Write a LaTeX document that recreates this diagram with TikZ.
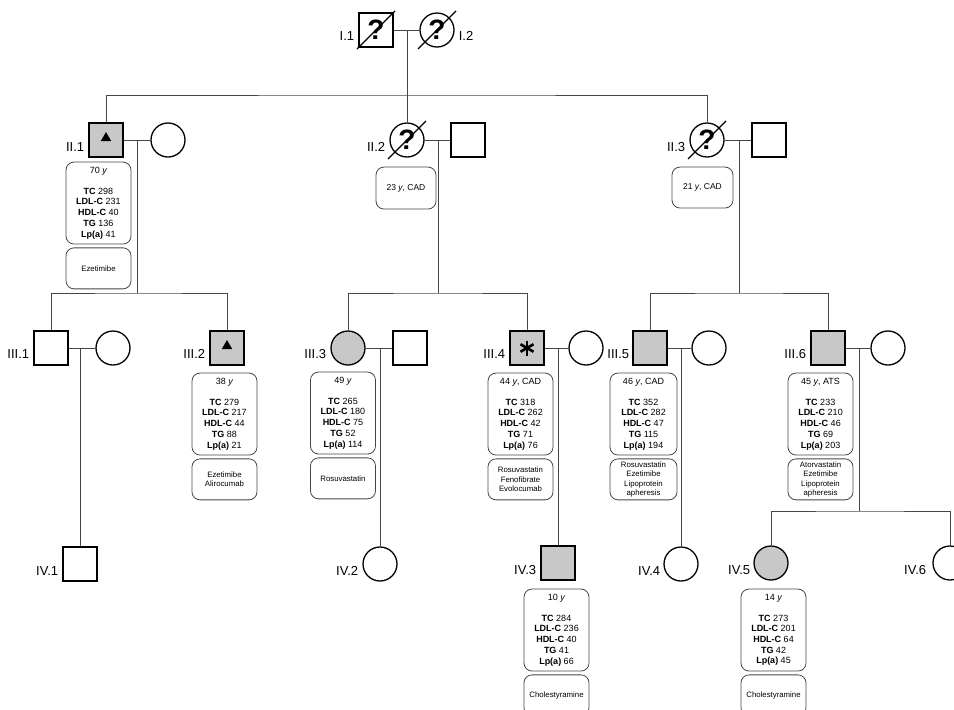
\documentclass[tikz,border=0pt]{standalone}
\usepackage{fontspec}
\setmainfont{Liberation Sans}
\usetikzlibrary{positioning, shapes.geometric}
\definecolor{colAff}{RGB}{200,200,200}
\definecolor{colLine}{RGB}{70,70,70}

\begin{document}
\begin{tikzpicture}[
  x=1pt, y=-1pt,
  male/.style={rectangle, draw, line width=1.3pt, minimum size=34pt, inner sep=0pt},
  female/.style={circle, draw, line width=1.3pt, minimum size=34pt, inner sep=0pt},
  aff/.style={fill=colAff},
  unk/.style={font=\fontsize{28}{28}\selectfont\bfseries},
  lbl/.style={font=\fontsize{13}{13}\selectfont, inner sep=0pt},
  info/.style={rectangle, rounded corners=8pt, draw=colLine, line width=0.8pt,
               minimum width=65pt, minimum height=82pt, inner sep=2pt, align=center,
               font=\fontsize{9}{10.7}\selectfont},
  rx/.style={rectangle, rounded corners=8pt, draw=colLine, line width=0.8pt,
             minimum width=65pt, minimum height=41pt, inner sep=1.5pt, align=center,
             font=\fontsize{7.8}{9.4}\selectfont},
  conn/.style={line width=0.9pt, colLine},
  slash/.style={line width=1.1pt},
  tristyle/.style={regular polygon, regular polygon sides=3, fill=black,
                   minimum size=12pt, inner sep=0pt},
]
\useasboundingbox (0,0) rectangle (954,710);
\clip (0,0) rectangle (954,710);

% Generation I
\node[male, unk] (ione) at (376,30) {?};
\node[female, unk] (itwo) at (437,30) {?};
\node[lbl, left=4pt of ione, yshift=-6pt] (ionelbl) {I.1};
\node[lbl, right=4pt of itwo, yshift=-6pt] (itwolbl) {I.2};
\draw[slash] ([shift={(-19pt,-19pt)}]ione.center) -- ([shift={(19pt,19pt)}]ione.center);
\draw[slash] ([shift={(-19pt,-19pt)}]itwo.center) -- ([shift={(19pt,19pt)}]itwo.center);

% Generation II
\node[male, aff] (iione) at (106,140) {};
\node[tristyle] (iionetri) at ([yshift=2pt]iione.center) {};
\node[female] (iionesp) at (168,140) {};
\node[female, unk] (iitwo) at (407,140) {?};
\node[male] (iitwosp) at (468,140) {};
\node[female, unk] (iithree) at (707,140) {?};
\node[male] (iithreesp) at (769,140) {};
\draw[slash] ([shift={(-19pt,-19pt)}]iitwo.center) -- ([shift={(19pt,19pt)}]iitwo.center);
\draw[slash] ([shift={(-19pt,-19pt)}]iithree.center) -- ([shift={(19pt,19pt)}]iithree.center);
\node[lbl, left=4pt of iione, yshift=-7pt] (iionelbl) {II.1};
\node[lbl, left=4pt of iitwo, yshift=-7pt] (iitwolbl) {II.2};
\node[lbl, left=4pt of iithree, yshift=-7pt] (iithreelbl) {II.3};

\node[info, below=4pt of iione, xshift=-7.5pt] (iioneinfo)
  {70 \textit{y}\\[10pt] \textbf{TC} 298\\ \textbf{LDL-C} 231\\ \textbf{HDL-C} 40\\ \textbf{TG} 136\\ \textbf{Lp(a)} 41};
\node[rx, below=3pt of iioneinfo] (iionerx) {Ezetimibe};
\node[rx, minimum width=60pt, minimum height=42pt, font=\fontsize{8.5}{10}\selectfont,
      below=9pt of iitwo, xshift=-1pt] (iitwoinfo) {23 \textit{y}, CAD};
\node[rx, minimum width=61pt, minimum height=41pt, font=\fontsize{8.5}{10}\selectfont,
      below=9pt of iithree, xshift=-4.5pt] (iithreeinfo) {21 \textit{y}, CAD};

% Generation III
\node[male] (iiione) at (51,348) {};
\node[female] (iiionesp) at (113,348) {};
\node[male, aff] (iiitwo) at (227,348) {};
\node[tristyle] (iiitwotri) at ([yshift=2pt]iiitwo.center) {};
\node[female, aff] (iiithree) at (348,348) {};
\node[male] (iiithreesp) at (410,348) {};
\node[male, aff] (iiifour) at (527,348) {};
\node[female] (iiifoursp) at (586,348) {};
\node[male, aff] (iiifive) at (650,348) {};
\node[female] (iiifivesp) at (709,348) {};
\node[male, aff] (iiisix) at (828,348) {};
\node[female] (iiisixsp) at (888,348) {};
\foreach \a in {90,30,150}
  \draw[line width=2.6pt] ([shift={(\a:7.5pt)}]iiifour.center) -- ([shift={(\a+180:7.5pt)}]iiifour.center);
\node[lbl, left=4pt of iiione, yshift=-6pt] (iiionelbl) {III.1};
\node[lbl, left=4pt of iiitwo, yshift=-6pt] (iiitwolbl) {III.2};
\node[lbl, left=4pt of iiithree, yshift=-6pt] (iiithreelbl) {III.3};
\node[lbl, left=4pt of iiifour, yshift=-6pt] (iiifourlbl) {III.4};
\node[lbl, left=3pt of iiifive, yshift=-6pt] (iiifivelbl) {III.5};
\node[lbl, left=4pt of iiisix, yshift=-6pt] (iiisixlbl) {III.6};

\node[info, below=7pt of iiitwo, xshift=-2.5pt] (iiitwoinfo)
  {38 \textit{y}\\[10pt] \textbf{TC} 279\\ \textbf{LDL-C} 217\\ \textbf{HDL-C} 44\\ \textbf{TG} 88\\ \textbf{Lp(a)} 21};
\node[rx, below=3pt of iiitwoinfo] (iiitworx) {Ezetimibe\\Alirocumab};
\node[info, below=6pt of iiithree, xshift=-5pt] (iiithreeinfo)
  {49 \textit{y}\\[10pt] \textbf{TC} 265\\ \textbf{LDL-C} 180\\ \textbf{HDL-C} 75\\ \textbf{TG} 52\\ \textbf{Lp(a)} 114};
\node[rx, below=3pt of iiithreeinfo] (iiithreerx) {Rosuvastatin};
\node[info, below=7pt of iiifour, xshift=-6.5pt] (iiifourinfo)
  {44 \textit{y}, CAD\\[10pt] \textbf{TC} 318\\ \textbf{LDL-C} 262\\ \textbf{HDL-C} 42\\ \textbf{TG} 71\\ \textbf{Lp(a)} 76};
\node[rx, below=3pt of iiifourinfo] (iiifourrx) {Rosuvastatin\\Fenofibrate\\Evolocumab};
\node[info, minimum width=67pt, below=7pt of iiifive, xshift=-6.5pt] (iiifiveinfo)
  {46 \textit{y}, CAD\\[10pt] \textbf{TC} 352\\ \textbf{LDL-C} 282\\ \textbf{HDL-C} 47\\ \textbf{TG} 115\\ \textbf{Lp(a)} 194};
\node[rx, minimum width=67pt, below=3pt of iiifiveinfo] (iiifiverx) {Rosuvastatin\\Ezetimibe\\Lipoprotein\\apheresis};
\node[info, below=7pt of iiisix, xshift=-7.5pt] (iiisixinfo)
  {45 \textit{y}, ATS\\[10pt] \textbf{TC} 233\\ \textbf{LDL-C} 210\\ \textbf{HDL-C} 46\\ \textbf{TG} 69\\ \textbf{Lp(a)} 203};
\node[rx, below=3pt of iiisixinfo] (iiisixrx) {Atorvastatin\\Ezetimibe\\Lipoprotein\\apheresis};

% Generation IV
\node[male] (ivone) at (80,564) {};
\node[female] (ivtwo) at (380,564) {};
\node[male, aff] (ivthree) at (558,563) {};
\node[female] (ivfour) at (681,564) {};
\node[female, aff] (ivfive) at (771,563) {};
\node[female] (ivsix) at (950,563) {};
\node[lbl, left=4pt of ivone, yshift=-7pt] (ivonelbl) {IV.1};
\node[lbl, left=4pt of ivtwo, yshift=-7pt] (ivtwolbl) {IV.2};
\node[lbl, left=4pt of ivthree, yshift=-7pt] (ivthreelbl) {IV.3};
\node[lbl, left=3pt of ivfour, yshift=-7pt] (ivfourlbl) {IV.4};
\node[lbl, left=3pt of ivfive, yshift=-7pt] (ivfivelbl) {IV.5};
\node[lbl, left=6pt of ivsix, yshift=-7pt] (ivsixlbl) {IV.6};

\node[info, below=8pt of ivthree, xshift=-1.5pt] (ivthreeinfo)
  {10 \textit{y}\\[10pt] \textbf{TC} 284\\ \textbf{LDL-C} 236\\ \textbf{HDL-C} 40\\ \textbf{TG} 41\\ \textbf{Lp(a)} 66};
\node[rx, below=3pt of ivthreeinfo] (ivthreerx) {Cholestyramine};
\node[info, below=8pt of ivfive, xshift=2.5pt] (ivfiveinfo)
  {14 \textit{y}\\[10pt] \textbf{TC} 273\\ \textbf{LDL-C} 201\\ \textbf{HDL-C} 64\\ \textbf{TG} 42\\ \textbf{Lp(a)} 45};
\node[rx, below=3pt of ivfiveinfo] (ivfiverx) {Cholestyramine};

% junctions
\coordinate (idesc) at (407,30);
\coordinate (iisib) at (407,95);
\coordinate (iionedesc) at (137,140);
\coordinate (iiisibA) at (137,293);
\coordinate (iitwodesc) at (438,140);
\coordinate (iiisibB) at (438,293);
\coordinate (iithreedesc) at (739,140);
\coordinate (iiisibC) at (739,293);
\coordinate (iiionedesc) at (80,348);
\coordinate (iiithreedesc) at (380,348);
\coordinate (iiifourdesc) at (558,348);
\coordinate (iiifivedesc) at (681,348);
\coordinate (iiisixdesc) at (859,348);
\coordinate (ivsib) at (859,511);

% marriages and lines of descent
\draw[conn] (ione) -- (itwo);
\draw[conn] (idesc) -- (iisib);
\draw[conn] (iione.north) |- (iisib) -| (iithree.north);
\draw[conn] (iisib) -- (iitwo.north);

\draw[conn] (iione) -- (iionesp);
\draw[conn] (iitwo) -- (iitwosp);
\draw[conn] (iithree) -- (iithreesp);
\draw[conn] (iionedesc) -- (iiisibA);
\draw[conn] (iitwodesc) -- (iiisibB);
\draw[conn] (iithreedesc) -- (iiisibC);
\draw[conn] (iiione.north) |- (iiisibA) -| (iiitwo.north);
\draw[conn] (iiithree.north) |- (iiisibB) -| (iiifour.north);
\draw[conn] (iiifive.north) |- (iiisibC) -| (iiisix.north);

\draw[conn] (iiione) -- (iiionesp);
\draw[conn] (iiithree) -- (iiithreesp);
\draw[conn] (iiifour) -- (iiifoursp);
\draw[conn] (iiifive) -- (iiifivesp);
\draw[conn] (iiisix) -- (iiisixsp);
\draw[conn] (iiionedesc) -- (ivone.north);
\draw[conn] (iiithreedesc) -- (ivtwo.north);
\draw[conn] (iiifourdesc) -- (ivthree.north);
\draw[conn] (iiifivedesc) -- (ivfour.north);
\draw[conn] (iiisixdesc) -- (ivsib);
\draw[conn] (ivfive.north) |- (ivsib) -| (ivsix.north);

\end{tikzpicture}
\end{document}
